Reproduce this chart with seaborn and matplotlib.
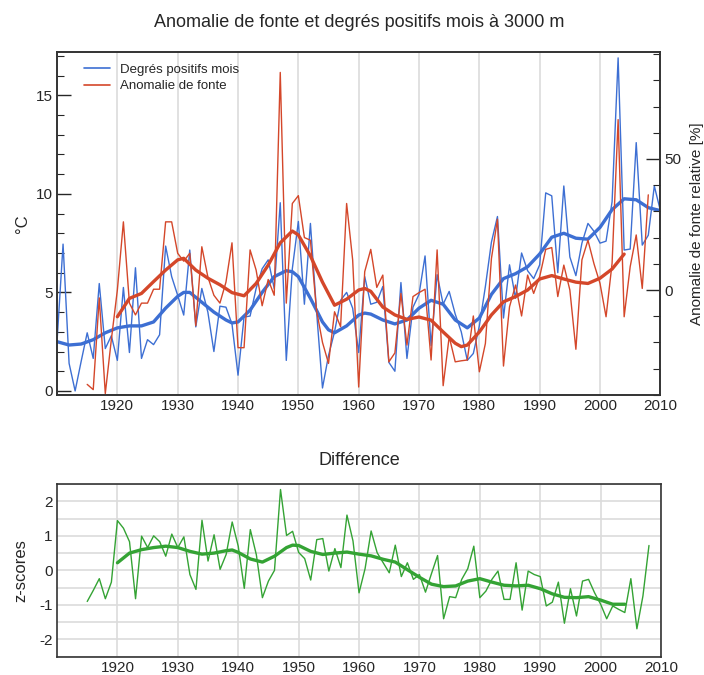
import pandas as pd
import seaborn as sns
import matplotlib.pyplot as plt
from matplotlib.lines import Line2D
from matplotlib.ticker import MultipleLocator, FuncFormatter

sns.set_style("white")
plt.rcParams['font.family'] = ['Liberation Sans', 'DejaVu Sans']

BLUE = '#3d6fd3'
RED = '#d4472a'
GREEN = '#34a334'

# Degrés positifs mois (°C), 1910-2010
blue_years = list(range(1910, 2011))
blue_vals = [2.5, 7.45, 1.4, 0.0, 1.5, 2.95, 1.65, 5.45, 2.15, 2.8,
             1.55, 5.25, 1.95, 6.25, 1.65, 2.6, 2.35, 2.85, 7.35, 5.8,
             4.85, 3.85, 7.15, 3.25, 5.2, 4.0, 2.0, 4.3, 4.25, 3.4,
             0.8, 3.75, 3.8, 5.2, 6.2, 6.65, 5.2, 9.55, 1.55, 6.2,
             8.6, 4.4, 8.5, 4.1, 0.15, 1.8, 3.0, 4.6, 5.0, 4.2,
             1.95, 5.8, 4.4, 4.5, 5.3, 1.45, 1.0, 5.5, 1.65, 4.25,
             4.9, 6.85, 2.3, 5.9, 4.4, 5.05, 3.9, 3.0, 1.55, 1.9,
             3.3, 5.3, 7.55, 8.85, 3.7, 6.4, 4.7, 7.0, 6.1, 5.7,
             6.4, 10.05, 9.9, 6.0, 10.4, 6.8, 5.85, 7.5, 8.5, 8.1,
             7.5, 7.6, 9.6, 16.9, 7.15, 7.2, 12.6, 7.4, 7.9, 10.4,
             9.15]

# Anomalie de fonte relative (%), 1915-2008
red_years = list(range(1915, 2009))
red_vals = [-36, -38, -3, -39.5, -19, 0, 26, -5, -9.5, -5,
            -5, 0.3, 0.3, 26, 26, 14, 11, 14, -13.6, 16.5,
            5, -2, -5, 3, 18, -22, -22, 15.3, 7.6, -6,
            4, -2, 83, -5, 33, 36, 20, 19, -7.6, -20,
            -28, -8.3, -14, 33, 11.5, -37, 7, 15.5, 1, 5.7,
            -27.4, -24, -1.3, -21, -2.5, -1, 0.3, -26.7, 15.3, -36.5,
            -17.8, -27.4, -27, -26.7, -9.9, -31.2, -20.4, 12, 27, -29,
            -6.4, 1.9, -9.9, 5.7, -1.3, 5.1, 15.5, 16.2, -2.5, 9.5,
            0, -22.6, 11.5, 19, 10, 2.5, -10.2, 10.2, 65, -10.2,
            8.9, 21, 0.6, 36.3]

# smoothed curves
blue_smooth_years = [1910, 1912, 1914, 1916, 1918, 1920, 1922, 1924, 1926, 1928,
                     1930, 1931, 1932, 1934, 1936, 1938, 1939, 1940, 1942, 1944,
                     1946, 1948, 1949, 1950, 1952, 1954, 1955, 1956, 1958, 1960,
                     1961, 1962, 1964, 1966, 1968, 1970, 1972, 1974, 1976, 1978,
                     1980, 1982, 1984, 1986, 1988, 1990, 1992, 1994, 1996, 1998,
                     2000, 2002, 2004, 2006, 2008, 2010]
blue_smooth = [2.5, 2.33, 2.38, 2.6, 2.95, 3.2, 3.3, 3.3, 3.5, 4.2,
               4.8, 5.0, 5.0, 4.5, 4.0, 3.6, 3.45, 3.5, 4.1, 5.0,
               5.8, 6.1, 6.05, 5.8, 4.7, 3.5, 3.1, 2.95, 3.3, 3.85,
               3.95, 3.9, 3.6, 3.4, 3.6, 4.2, 4.6, 4.4, 3.6, 3.2,
               3.7, 4.9, 5.7, 5.95, 6.3, 6.95, 7.8, 8.0, 7.75, 7.7,
               8.3, 9.2, 9.75, 9.7, 9.3, 9.15]

red_smooth_years = [1920, 1922, 1924, 1926, 1928, 1930, 1931, 1933, 1935, 1937,
                    1939, 1941, 1943, 1945, 1947, 1949, 1950, 1952, 1954, 1956,
                    1958, 1960, 1961, 1962, 1964, 1966, 1968, 1970, 1972, 1974,
                    1976, 1977, 1978, 1980, 1982, 1984, 1986, 1988, 1990, 1992,
                    1994, 1996, 1998, 2000, 2002, 2004]
red_smooth = [-10.2, -3.2, -1.3, 3.2, 7.6, 11.5, 12.1, 7.6, 4.5, 2,
              -1, -2.2, 2.5, 9.5, 18, 22.5, 21, 13, 3, -5.8,
              -3.5, 0, 0.6, -0.5, -6.5, -9.5, -11.2, -10.3, -11.5, -16,
              -20.3, -21.6, -21, -16, -9.5, -4.5, -2.5, 0, 4.2, 5.5,
              4.2, 3, 2.5, 4.5, 8, 13.7]

# Différence (z-scores), 1915-2008
green_years = list(range(1915, 2009))
green_vals = [-0.9, -0.58, -0.24, -0.82, -0.34, 1.44, 1.22, 0.83, -0.82, 0.99,
              0.66, 1.0, 0.83, 0.41, 1.05, 0.66, 0.97, -0.12, -0.55, 1.45,
              0.27, 1.03, 0.03, 0.46, 1.4, 0.7, -0.52, 1.18, 0.45, -0.79,
              -0.31, 0.0, 2.34, 1.01, 1.13, 0.52, 0.34, -0.28, 0.89, 0.92,
              -0.02, 0.63, 0.08, 1.6, 0.85, -0.65, 0.05, 1.14, 0.51, 0.22,
              -0.07, 0.73, -0.18, 0.22, -0.26, -0.12, -0.63, -0.09, 0.43, -1.4,
              -0.76, -0.79, -0.26, 0.05, 0.7, -0.79, -0.6, -0.26, -0.02, -0.84,
              -0.84, 0.22, -1.15, -0.02, -0.12, -0.18, -1.03, -0.92, -0.34, -1.53,
              -0.53, -1.32, -0.31, -0.26, -0.65, -0.98, -1.4, -1.03, -1.13, -1.22,
              -0.24, -1.69, -0.74, 0.72]
green_smooth_years = [1920, 1922, 1924, 1926, 1928, 1930, 1932, 1934, 1936, 1938,
                      1939, 1940, 1942, 1944, 1946, 1948, 1949, 1950, 1952, 1954,
                      1956, 1958, 1960, 1962, 1964, 1966, 1968, 1970, 1972, 1974,
                      1976, 1978, 1980, 1982, 1984, 1986, 1988, 1990, 1992, 1994,
                      1996, 1998, 2000, 2002, 2004]
green_smooth = [0.22, 0.5, 0.6, 0.66, 0.7, 0.66, 0.55, 0.47, 0.5, 0.57,
                0.59, 0.52, 0.33, 0.24, 0.41, 0.66, 0.73, 0.72, 0.55, 0.46,
                0.5, 0.53, 0.47, 0.42, 0.32, 0.24, 0.02, -0.2, -0.4, -0.47,
                -0.45, -0.31, -0.24, -0.34, -0.43, -0.45, -0.43, -0.53, -0.68, -0.78,
                -0.79, -0.76, -0.86, -0.98, -0.98]

blue_df = pd.DataFrame({'annee': blue_years, 'val': blue_vals})
red_df = pd.DataFrame({'annee': red_years, 'val': red_vals})
green_df = pd.DataFrame({'annee': green_years, 'val': green_vals})

fig = plt.figure(figsize=(7.04, 6.75), dpi=100)
ax = fig.add_axes([0.081, 0.415, 0.857, 0.508])
ax2 = ax.twinx()
axd = fig.add_axes([0.081, 0.027, 0.858, 0.256])

# --- top panel
sns.lineplot(data=blue_df, x='annee', y='val', ax=ax, color=BLUE, lw=1.0)
sns.lineplot(x=blue_smooth_years, y=blue_smooth, ax=ax, color=BLUE, lw=2.4)
sns.lineplot(data=red_df, x='annee', y='val', ax=ax2, color=RED, lw=1.0)
sns.lineplot(x=red_smooth_years, y=red_smooth, ax=ax2, color=RED, lw=2.4)

ax.set_xlim(1910, 2010)
ax.set_ylim(-0.2, 17.2)
ax2.set_ylim(-40, 90.8)
ax.set_xticks(range(1920, 2011, 10))
ax.xaxis.set_minor_locator(MultipleLocator(2))
ax.yaxis.set_major_locator(MultipleLocator(5))
ax.yaxis.set_minor_locator(MultipleLocator(1))
ax2.yaxis.set_major_locator(MultipleLocator(50))
ax2.yaxis.set_minor_locator(MultipleLocator(10))
ax.grid(axis='x', color='#dcdcdc', lw=1.2)
ax.set_axisbelow(True)
ax.set_xlabel('')
ax.set_ylabel('°C', fontsize=12, labelpad=4)
ax2.set_ylabel('Anomalie de fonte relative [%]', fontsize=11, labelpad=6)
ax.set_title('Anomalie de fonte et degrés positifs mois à 3000 m', fontsize=13, pad=18)

for a in (ax, ax2, axd):
    a.tick_params(which='major', direction='in', length=10, width=1, labelsize=11, pad=3)
    a.tick_params(which='minor', direction='in', length=5, width=0.8)
    for s in a.spines.values():
        s.set_color('#333333')
        s.set_linewidth(1.2)
ax.tick_params(axis='y', which='both', right=False)
ax.tick_params(axis='x', which='both', top=False)
ax2.tick_params(axis='x', which='both', top=False, bottom=False)

handles = [Line2D([], [], color=BLUE, lw=1.2), Line2D([], [], color=RED, lw=1.2)]
ax2.legend(handles, ['Degrés positifs mois', 'Anomalie de fonte'], loc='upper left',
           bbox_to_anchor=(0.025, 1.0), frameon=False, fontsize=9.5,
           handlelength=2.0, handletextpad=0.7, labelspacing=0.3, borderaxespad=0.5)

# --- bottom panel
sns.lineplot(data=green_df, x='annee', y='val', ax=axd, color=GREEN, lw=1.0)
sns.lineplot(x=green_smooth_years, y=green_smooth, ax=axd, color=GREEN, lw=2.4)
axd.set_xlim(1910, 2010)
axd.set_ylim(-2.5, 2.5)
axd.set_xticks(range(1920, 2011, 10))
axd.xaxis.set_minor_locator(MultipleLocator(2))
axd.yaxis.set_major_locator(MultipleLocator(0.5))
axd.yaxis.set_major_formatter(FuncFormatter(lambda v, p: f'{v:.0f}' if abs(v - round(v)) < 1e-6 else ''))
axd.grid(True, color='#dcdcdc', lw=1.2)
axd.set_axisbelow(True)
axd.tick_params(axis='x', which='both', top=False)
axd.tick_params(axis='y', which='both', right=False)
axd.tick_params(axis='y', which='major', length=6)
axd.set_xlabel('')
axd.set_ylabel('z-scores', fontsize=12, labelpad=8)
axd.set_title('Différence', fontsize=13, pad=14)

fig.savefig('out.png', dpi=100)
